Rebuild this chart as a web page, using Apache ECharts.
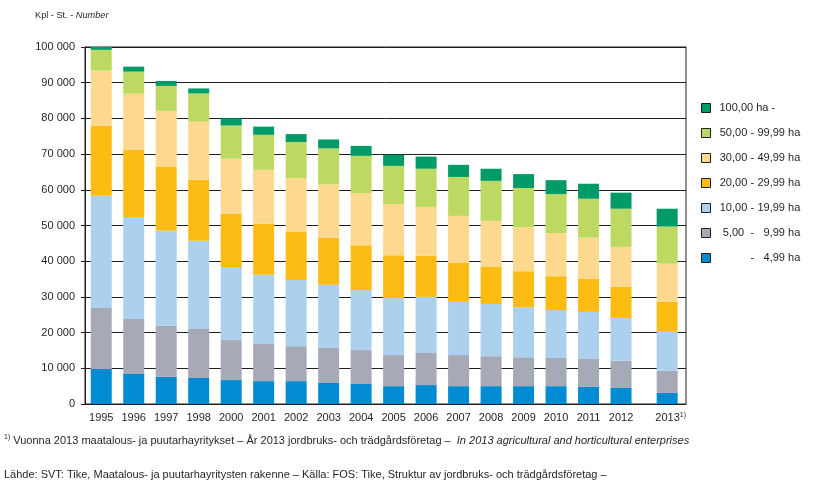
<!DOCTYPE html>
<html>
<head>
<meta charset="utf-8">
<script src="https://cdn.jsdelivr.net/npm/echarts@6/dist/echarts.min.js"></script>
<style>
  html, body { margin: 0; padding: 0; background: #fff; }
  #chart { width: 831px; height: 481px; }
</style>
</head>
<body>
<div id="chart"></div>
<script>
// ---- data ----
const years = ['1995', '1996', '1997', '1998', '2000', '2001', '2002', '2003', '2004', '2005', '2006', '2007', '2008', '2009', '2010', '2011', '2012', '2013'];
const yearNotes = ['', '', '', '', '', '', '', '', '', '', '', '', '', '', '', '', '', '1)'];
const classNames = ['- 4,99 ha', '5,00 - 9,99 ha', '10,00 - 19,99 ha', '20,00 - 29,99 ha', '30,00 - 49,99 ha', '50,00 - 99,99 ha', '100,00 ha -'];
const under5   = [9800, 8400, 7600, 7300, 6700, 6400, 6400, 5900, 5600, 5000, 5300, 5000, 5000, 5000, 5000, 4800, 4500, 3100];
const ha5to10  = [17100, 15400, 14300, 13700, 11200, 10400, 9800, 9800, 9500, 8700, 9000, 8700, 8400, 8100, 7900, 7800, 7600, 6200];
const ha10to20 = [31400, 28600, 26600, 24700, 20500, 19400, 18500, 17700, 16800, 16000, 15700, 14900, 14600, 14000, 13400, 13200, 12000, 10900];
const ha20to30 = [19600, 18800, 17900, 17100, 14900, 14300, 13500, 13200, 12600, 12000, 11500, 10900, 10400, 10100, 9500, 9300, 8700, 8400];
const ha30to50 = [15500, 15700, 15700, 16300, 15400, 15100, 15100, 14900, 14600, 14300, 13700, 13200, 12900, 12300, 12100, 11500, 11200, 10700];
const ha50to100 = [5800, 6200, 7000, 7900, 9300, 9800, 10100, 10100, 10400, 10700, 10700, 10900, 11200, 11000, 10900, 10900, 10700, 10400];
const ha100plus = [900, 1400, 1400, 1400, 2000, 2300, 2200, 2500, 2800, 3100, 3400, 3400, 3400, 3900, 3900, 4200, 4500, 5000];
const yTicks = [0, 10000, 20000, 30000, 40000, 50000, 60000, 70000, 80000, 90000, 100000];
const axisTitle = ['Kpl - St. - ', 'Number'];
const footnote = ['1)', ' Vuonna 2013 maatalous- ja puutarhayritykset \u2013 \u00c5r 2013 jordbruks- och tr\u00e4dg\u00e5rdsf\u00f6retag \u2013  ', 'In 2013 agricultural and horticultural enterprises'];
const sourceText = 'L\u00e4hde: SVT: Tike, Maatalous- ja puutarhayritysten rakenne \u2013 K\u00e4lla: FOS: Tike, Struktur av jordbruks- och tr\u00e4dg\u00e5rdsf\u00f6retag \u2013';

// ---- styling / layout ----
const seriesValues = [under5, ha5to10, ha10to20, ha20to30, ha30to50, ha50to100, ha100plus];
const colors = ['#008BD2', '#A6A9B6', '#ABD1EE', '#FCBC13', '#FDD88F', '#BED962', '#009B67'];
const ink = '#231F20';
const FONT = '"Liberation Sans", Arial, sans-serif';
const EXTRA_GAP_LAST = 0.42; // the 2013 bar stands a little apart

const positions = years.map((y, i) => i === years.length - 1 ? i + EXTRA_GAP_LAST : i);
const labelOf = {};
positions.forEach((p, i) => { labelOf[Math.round(p * 100)] = i; });

function fmtThousands(v) {
  return String(v).replace(/\B(?=(\d{3})+(?!\d))/g, ' ');
}

// value first, position second, so the value dimension is the stacked one
const series = classNames.map((name, k) => ({
  name: name,
  type: 'bar',
  stack: 'farms',
  barWidth: 21,
  encode: { x: 1, y: 0 },
  itemStyle: { color: colors[k] },
  emphasis: { disabled: true },
  data: seriesValues[k].map((v, i) => [v, positions[i]])
}));

const chart = echarts.init(document.getElementById('chart'), null, { renderer: 'canvas' });
chart.setOption({
  animation: false,
  backgroundColor: '#fff',
  textStyle: { fontFamily: FONT, color: ink },
  grid: {
    left: 85, right: 145, top: 47, bottom: 77,
    show: true, borderColor: ink, borderWidth: 1, backgroundColor: 'transparent',
    containLabel: false
  },
  xAxis: {
    type: 'value',
    min: -0.5,
    max: 18,
    axisLine: { show: true, onZero: false, lineStyle: { color: ink, width: 1 } },
    axisTick: { show: false },
    splitLine: { show: false },
    axisLabel: {
      customValues: positions,
      margin: 8,
      fontSize: 11,
      color: ink,
      fontFamily: FONT,
      formatter: function (v) {
        const i = labelOf[Math.round(v * 100)];
        if (i === undefined) return '';
        return yearNotes[i] ? '{y|' + years[i] + '}{s|' + yearNotes[i] + '}' : years[i];
      },
      rich: {
        y: { fontSize: 11, color: ink, fontFamily: FONT, padding: [0, 0, 0, 7] },
        s: { fontSize: 7, color: ink, fontFamily: FONT, verticalAlign: 'top', padding: [0, 0, 5, 0] }
      }
    }
  },
  yAxis: {
    type: 'value',
    min: yTicks[0],
    max: yTicks[yTicks.length - 1],
    interval: yTicks[1] - yTicks[0],
    axisLine: { show: true, onZero: false, lineStyle: { color: ink, width: 1 } },
    axisTick: { show: true, length: 4, lineStyle: { color: ink } },
    splitLine: { show: true, lineStyle: { color: ink, width: 1 } },
    axisLabel: { margin: 10, fontSize: 11, color: ink, fontFamily: FONT, formatter: fmtThousands }
  },
  legend: {
    orient: 'vertical',
    left: 701,
    top: 102,
    padding: 0,
    itemWidth: 9,
    itemHeight: 9,
    itemGap: 13,
    icon: 'rect',
    selectedMode: false,
    data: classNames.slice().reverse().map((n) => ({
      name: n,
      itemStyle: { borderColor: ink, borderWidth: 1 }
    })),
    textStyle: {
      fontSize: 11, color: ink, fontFamily: FONT, lineHeight: 12, padding: [0, 0, 0, 4],
      rich: {
        a: { fontSize: 11, color: ink, fontFamily: FONT, width: 28, align: 'right' },
        d: { fontSize: 11, color: ink, fontFamily: FONT },
        c: { fontSize: 11, color: ink, fontFamily: FONT, width: 43, align: 'right' }
      }
    },
    formatter: function (name) {
      const m = name.match(/^([\d,]*)\s*-\s*([\d,]+ ha)$/);
      if (!m) return name;
      return '{a|' + m[1] + '}{d| - }{c|' + m[2] + '}';
    }
  },
  graphic: [
    {
      type: 'text', left: 35, top: 11,
      style: {
        text: '{a|' + axisTitle[0] + '}{b|' + axisTitle[1] + '}',
        rich: {
          a: { fontSize: 9.2, fill: ink, fontFamily: FONT },
          b: { fontSize: 9.2, fill: ink, fontFamily: FONT, fontStyle: 'italic' }
        }
      }
    },
    {
      type: 'text', left: 4, top: 434,
      style: {
        text: '{s|' + footnote[0] + '}{n|' + footnote[1] + '}{i|' + footnote[2] + '}',
        rich: {
          s: { fontSize: 7, fill: ink, fontFamily: FONT, verticalAlign: 'top', padding: [0, 0, 6, 0] },
          n: { fontSize: 11, fill: ink, fontFamily: FONT },
          i: { fontSize: 11, fill: ink, fontFamily: FONT, fontStyle: 'italic' }
        }
      }
    },
    {
      type: 'text', left: 4, top: 469,
      style: { text: sourceText, fontSize: 11, fill: ink, fontFamily: FONT }
    }
  ],
  series: series
});
</script>
</body>
</html>
